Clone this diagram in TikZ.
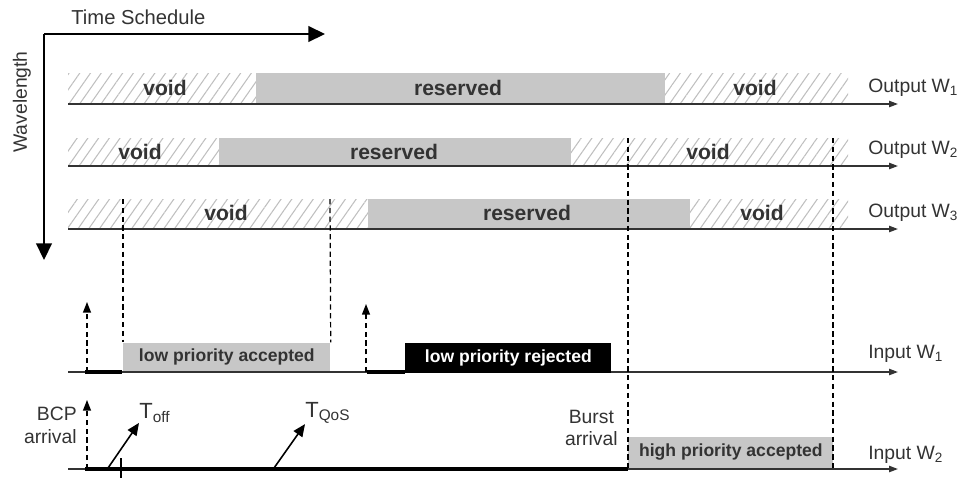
\documentclass[tikz,border=0pt]{standalone}
\usepackage{fontspec}
\setmainfont{Liberation Sans}
\usetikzlibrary{arrows.meta,patterns.meta}

\begin{document}
\begin{tikzpicture}[x=0.02cm,y=-0.02cm]
        \tikzstyle{every node}+=[inner sep=0pt, text=black!80, font=\fontsize{11}{13}\selectfont]
        \tikzstyle{hatch}=[pattern={Lines[angle=55,distance=5pt,line width=0.6pt]}, pattern color=black!25]
        \tikzstyle{busy}=[fill=black!22]
        \tikzstyle{slotlbl}=[font=\fontsize{12}{14}\selectfont\bfseries]
        \tikzstyle{boxlbl}=[font=\fontsize{10}{12}\selectfont\bfseries]
        \tikzstyle{timelbl}=[font=\fontsize{12.5}{14}\selectfont]
        \tikzstyle{timeline}=[-{Triangle[length=5pt,width=3.5pt]}, line width=0.9pt, black!80]
        \tikzstyle{axis}=[-{Triangle[length=9.5pt,width=9pt]}, line width=0.9pt]
        \tikzstyle{guide}=[dashed, line width=0.7pt, dash pattern=on 3pt off 2pt]
        \tikzstyle{hold}=[line width=2.2pt]
        \useasboundingbox (0,0) rectangle (972,478);
        % axes
        \coordinate (corner) at (44,34);
        \coordinate (tend) at (325,34);
        \coordinate (wend) at (44,260);
        \draw [axis] (corner) -- (tend);
        \draw [axis] (corner) -- (wend);
        \node [anchor=west, font=\fontsize{11.5}{13}\selectfont] (tsched) at (71,17) {Time Schedule};
        \node [rotate=90] (wlen) at (22,102) {Wavelength};
        % output W1
        \fill [hatch] (68,73) rectangle (848,104);
        \fill [busy] (256,73) rectangle (665,104);
        \node [slotlbl] (v11) at (165,88) {void};
        \node [slotlbl] (r1) at (458,88) {reserved};
        \node [slotlbl] (v12) at (755,88) {void};
        \coordinate (o1s) at (68,104);
        \coordinate (o1e) at (898,104);
        \draw [timeline] (o1s) -- (o1e);
        \node [anchor=west] (o1lbl) at (868,88) {Output W\textsubscript{1}};
        % output W2
        \fill [hatch] (68,138) rectangle (848,166);
        \fill [busy] (219,138) rectangle (571,166);
        \node [slotlbl] (v21) at (140,152) {void};
        \node [slotlbl] (r2) at (394,152) {reserved};
        \node [slotlbl] (v22) at (708,152) {void};
        \coordinate (o2s) at (68,166);
        \coordinate (o2e) at (898,166);
        \draw [timeline] (o2s) -- (o2e);
        \node [anchor=west] (o2lbl) at (868,150) {Output W\textsubscript{2}};
        % output W3
        \fill [hatch] (68,199) rectangle (848,229);
        \fill [busy] (368,199) rectangle (690,229);
        \node [slotlbl] (v31) at (226,213) {void};
        \node [slotlbl] (r3) at (527,213) {reserved};
        \node [slotlbl] (v32) at (762,213) {void};
        \coordinate (o3s) at (68,229);
        \coordinate (o3e) at (898,229);
        \draw [timeline] (o3s) -- (o3e);
        \node [anchor=west] (o3lbl) at (868,213) {Output W\textsubscript{3}};
        % input W1
        \coordinate (i1s) at (68,372);
        \coordinate (i1e) at (898,372);
        \draw [timeline] (i1s) -- (i1e);
        \node [anchor=west] (i1lbl) at (868,354) {Input W\textsubscript{1}};
        \node [busy, minimum width=207*0.02cm, minimum height=28*0.02cm, anchor=south west, boxlbl] (lpa) at (123,371) {low priority accepted};
        \node [fill=black, text=white, minimum width=206*0.02cm, minimum height=30*0.02cm, anchor=south west, boxlbl] (lpr) at (405,373) {low priority rejected};
        \coordinate (b1) at (85,372);
        \coordinate (b1e) at (122,372);
        \coordinate (b2) at (367,372);
        \draw [hold] (b1) -- (b1e);
        \draw [hold] (b2) -- (lpr.south west |- b2);
        \coordinate (b1up) at (87,302);
        \coordinate (b2up) at (366,304);
        \draw [guide, -{Triangle[length=6pt,width=4.5pt]}] (87,372) -- (b1up);
        \draw [guide, -{Triangle[length=6pt,width=4.5pt]}] (366,372) -- (b2up);
        % input W2
        \coordinate (i2s) at (68,469);
        \coordinate (i2e) at (898,469);
        \draw [timeline] (i2s) -- (i2e);
        \node [anchor=west] (i2lbl) at (868,455) {Input W\textsubscript{2}};
        \node [busy, minimum width=205*0.02cm, minimum height=31*0.02cm, anchor=south west, boxlbl] (hpa) at (628,468) {high priority accepted};
        \coordinate (b3) at (85,469);
        \draw [hold] (b3) -- (hpa.south west |- b3);
        \coordinate (tick1) at (121,458);
        \coordinate (tick2) at (121,478);
        \draw [line width=1.6pt] (tick1) -- (tick2);
        \coordinate (b3up) at (87,400);
        \draw [guide, -{Triangle[length=6pt,width=4.5pt]}] (87,469) -- (b3up);
        \node [anchor=east, align=right] (bcp) at (77,425) {BCP\\arrival};
        \node [anchor=east, align=center] (burst) at (618,428) {Burst\\arrival};
        % offset and QoS times
        \node [anchor=west, timelbl] (toff) at (139,413) {T\textsubscript{off}};
        \node [anchor=west, timelbl] (tqos) at (305,413) {T\textsubscript{QoS}};
        \coordinate (toffs) at (108,468);
        \coordinate (tqoss) at (274,468);
        \draw [line width=0.9pt, -{Triangle[length=7pt,width=6pt]}] (toffs) -- (toff.south west);
        \draw [line width=0.9pt, -{Triangle[length=7pt,width=6pt]}] (tqoss) -- (tqos.south west);
        % time marks
        \coordinate (g1a) at (123,199);
        \coordinate (g2a) at (330,199);
        \coordinate (g3a) at (628,138);
        \coordinate (g3b) at (628,468);
        \coordinate (g4a) at (833,138);
        \coordinate (g4b) at (833,468);
        \draw [guide] (g1a) -- (lpa.north west);
        \draw [guide] (g2a) -- (lpa.north east);
        \draw [guide] (g3a) -- (g3b);
        \draw [guide] (g4a) -- (g4b);
\end{tikzpicture}
\end{document}
